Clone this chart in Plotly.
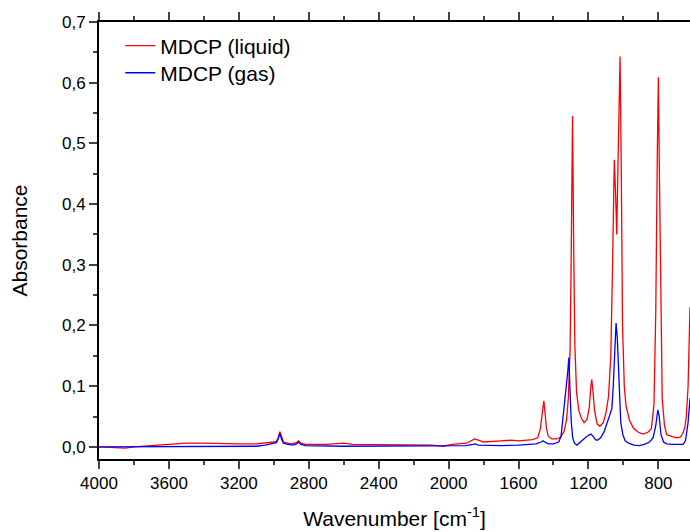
import plotly.graph_objects as go

# Wavenumber (cm^-1) and absorbance
liquid_wn = [4000, 3900, 3850, 3800, 3700, 3650, 3600, 3550, 3500, 3400, 3300, 3200, 3100, 3050,
             3000, 2985, 2975, 2965, 2955, 2945, 2920, 2900, 2870, 2858, 2845, 2820, 2700, 2600,
             2550, 2400, 2200, 2100, 2030, 1980, 1900, 1870, 1850, 1830, 1800, 1700, 1640, 1600,
             1520, 1490, 1475, 1462, 1455, 1448, 1440, 1430, 1410, 1380, 1360, 1340, 1325, 1315,
             1305, 1298, 1291, 1285, 1278, 1268, 1255, 1240, 1225, 1208, 1195, 1186, 1181, 1175,
             1165, 1150, 1135, 1115, 1100, 1085, 1072, 1062, 1052, 1045, 1038, 1030, 1019, 1012,
             1005, 995, 985, 965, 943, 915, 886, 860, 840, 825, 815, 806, 800, 794, 786, 778,
             765, 752, 720, 695, 675, 660, 648, 640, 630, 625, 619]
liquid_abs = [0.000, -0.001, -0.002, 0.000, 0.002, 0.004, 0.005, 0.006, 0.006, 0.006, 0.005, 0.005, 0.005, 0.006,
              0.008, 0.009, 0.015, 0.025, 0.015, 0.008, 0.006, 0.005, 0.007, 0.010, 0.006, 0.004, 0.004, 0.006,
              0.004, 0.004, 0.004, 0.003, 0.001, 0.004, 0.006, 0.010, 0.013, 0.011, 0.008, 0.010, 0.011, 0.010,
              0.012, 0.015, 0.030, 0.060, 0.076, 0.055, 0.030, 0.018, 0.013, 0.013, 0.016, 0.025, 0.045, 0.080,
              0.160, 0.330, 0.545, 0.350, 0.170, 0.090, 0.060, 0.047, 0.040, 0.045, 0.065, 0.100, 0.111, 0.095,
              0.060, 0.038, 0.034, 0.040, 0.056, 0.083, 0.150, 0.300, 0.473, 0.420, 0.350, 0.480, 0.643, 0.450,
              0.200, 0.100, 0.068, 0.044, 0.031, 0.024, 0.021, 0.024, 0.030, 0.070, 0.220, 0.480, 0.609, 0.450, 0.200, 0.080,
              0.035, 0.020, 0.017, 0.015, 0.016, 0.022, 0.033, 0.050, 0.100, 0.160, 0.230]

gas_wn = [4000, 3800, 3600, 3400, 3200, 3100, 3050, 3000, 2985, 2975, 2965, 2955, 2945, 2920,
          2890, 2870, 2858, 2845, 2820, 2600, 2400, 2200, 2000, 1900, 1860, 1848, 1830, 1700,
          1600, 1500, 1470, 1460, 1450, 1430, 1400, 1385, 1370, 1357, 1343, 1329, 1318, 1312,
          1305, 1298, 1290, 1280, 1266, 1240, 1215, 1200, 1186, 1175, 1160, 1150, 1130, 1110,
          1094, 1078, 1066, 1058, 1050, 1042, 1035, 1025, 1015, 1003, 990, 970, 940, 910,
          880, 850, 830, 815, 803, 795, 785, 770, 752, 720, 680, 659, 645, 630, 619]
gas_abs = [0.000, 0.000, 0.001, 0.001, 0.001, 0.001, 0.003, 0.006, 0.007, 0.013, 0.022, 0.012, 0.006, 0.004,
           0.003, 0.005, 0.008, 0.004, 0.002, 0.001, 0.001, 0.001, 0.001, 0.002, 0.004, 0.005, 0.003, 0.002,
           0.003, 0.005, 0.008, 0.010, 0.008, 0.005, 0.005, 0.006, 0.008, 0.017, 0.061, 0.094, 0.125, 0.147,
           0.090, 0.040, 0.015, 0.006, 0.003, 0.010, 0.016, 0.019, 0.021, 0.018, 0.012, 0.011, 0.015, 0.025,
           0.040, 0.055, 0.063, 0.100, 0.170, 0.204, 0.180, 0.100, 0.040, 0.020, 0.010, 0.006, 0.003, 0.002,
           0.004, 0.008, 0.015, 0.035, 0.061, 0.050, 0.020, 0.008, 0.005, 0.004, 0.004, 0.004, 0.010, 0.040, 0.080]

series_names = ["MDCP (liquid)", "MDCP (gas)"]
series_colors = ["#FF0000", "#0000FF"]

fig = go.Figure()
fig.add_trace(go.Scatter(x=liquid_wn, y=liquid_abs, mode="lines", name=series_names[0],
                         line=dict(color=series_colors[0], width=1.3), legend="legend"))
fig.add_trace(go.Scatter(x=gas_wn, y=gas_abs, mode="lines", name=series_names[1],
                         line=dict(color=series_colors[1], width=1.3), legend="legend2"))

axis_font = dict(family="Liberation Sans, Arial, sans-serif", size=17, color="black")
legend_common = dict(xanchor="left", yanchor="top", font=dict(size=21, color="black"),
                     bgcolor="rgba(0,0,0,0)")
fig.update_layout(
    width=690, height=532,
    margin=dict(l=99, r=0, t=22, b=73),
    plot_bgcolor="white", paper_bgcolor="white",
    separators=",.",
    font=dict(family="Liberation Sans, Arial, sans-serif", color="black"),
    showlegend=True,
    legend=dict(x=0.036, y=0.992, **legend_common),
    legend2=dict(x=0.036, y=0.930, **legend_common),
    xaxis=dict(range=[4000, 619], tick0=0, dtick=400, ticks="outside", ticklen=8, tickwidth=1.5,
               showline=True, linecolor="black", linewidth=2, mirror="ticks", showgrid=False,
               zeroline=False, tickfont=axis_font,
               minor=dict(dtick=200, ticks="outside", ticklen=4, tickwidth=1.5, showgrid=False),
               title=dict(text="Wavenumber [cm<sup>-1</sup>]", font=dict(size=21), standoff=19)),
    yaxis=dict(range=[-0.02, 0.7], tick0=0, dtick=0.1, tickformat=".1f", ticks="outside", ticklen=8,
               tickwidth=1.5, showline=True, linecolor="black", linewidth=2, showgrid=False,
               zeroline=False, tickfont=axis_font,
               minor=dict(dtick=0.05, ticks="outside", ticklen=4, tickwidth=1.5, showgrid=False),
               title=dict(text="Absorbance", font=dict(size=21), standoff=29)),
)

fig.write_html("out.html")
